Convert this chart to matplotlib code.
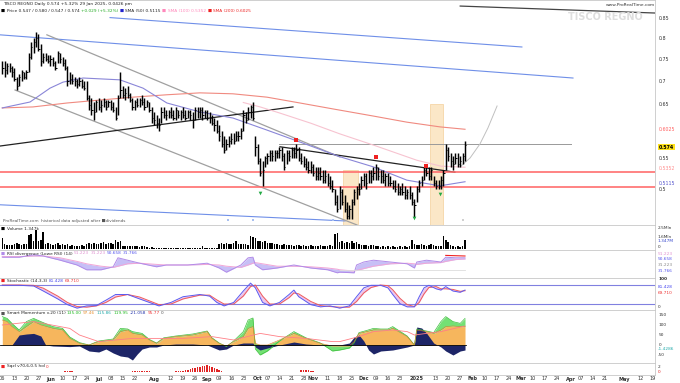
import numpy as np
import pandas as pd
import matplotlib
matplotlib.use("Agg")
import matplotlib.pyplot as plt
from matplotlib.transforms import blended_transform_factory

# ---------------- data ----------------
last_date = "2025-01-29"

highs = [.745,.745,.74,.74,.735,.73,.71,.715,.725,.72,
         .725,.765,.79,.80,.815,.81,.785,.765,.765,.76,
         .76,.755,.745,.77,.765,.755,.75,.735,.72,.715,
         .71,.705,.71,.705,.70,.70,.67,.665,.655,.66,
         .665,.66,.665,.66,.66,.66,.655,.645,.67,.72,
         .69,.685,.69,.675,.665,.66,.665,.665,.67,.665,
         .66,.655,.645,.635,.63,.625,.645,.645,.64,.64,
         .645,.64,.645,.64,.64,.645,.64,.64,.64,.635,
         .645,.645,.645,.645,.64,.64,.635,.63,.625,.62,
         .61,.60,.59,.585,.59,.595,.595,.60,.60,.605,
         .64,.635,.645,.65,.655,.59,.575,.55,.545,.555,
         .56,.565,.565,.565,.565,.57,.57,.56,.565,.565,
         .57,.57,.575,.57,.56,.555,.55,.545,.545,.54,
         .535,.535,.535,.53,.53,.525,.52,.515,.50,.49,
         .505,.50,.49,.48,.475,.485,.50,.505,.51,.52,
         .525,.525,.53,.53,.535,.54,.535,.53,.53,.525,
         .525,.52,.515,.515,.51,.505,.51,.505,.50,.505,
         .495,.485,.505,.515,.52,.535,.54,.535,.535,.52,
         .515,.515,.52,.53,.575,.57,.56,.555,.56,.56,
         .555,.56,.58]
lows = [.715,.71,.715,.72,.71,.70,.68,.69,.70,.705,
        .705,.72,.75,.765,.78,.77,.735,.74,.745,.74,
        .735,.735,.725,.74,.74,.735,.725,.69,.695,.695,
        .69,.685,.69,.685,.68,.66,.64,.63,.62,.635,
        .64,.635,.645,.64,.645,.64,.635,.62,.63,.665,
        .665,.66,.665,.655,.64,.64,.645,.645,.65,.64,
        .645,.635,.615,.61,.605,.60,.615,.625,.62,.625,
        .625,.62,.62,.625,.62,.625,.62,.625,.62,.605,
        .62,.625,.625,.62,.625,.62,.615,.61,.60,.595,
        .58,.57,.56,.565,.57,.575,.575,.58,.58,.585,
        .60,.615,.62,.625,.62,.555,.54,.52,.505,.535,
        .54,.545,.545,.545,.55,.55,.545,.53,.54,.545,
        .55,.55,.55,.545,.54,.535,.53,.525,.525,.52,
        .515,.515,.515,.51,.51,.505,.50,.495,.475,.465,
        .47,.475,.465,.455,.455,.455,.475,.485,.49,.50,
        .505,.50,.51,.51,.515,.515,.515,.51,.51,.505,
        .505,.505,.50,.495,.49,.49,.49,.485,.485,.485,
        .475,.458,.48,.495,.505,.515,.52,.515,.515,.505,
        .50,.50,.50,.505,.53,.545,.535,.53,.54,.535,
        .535,.54,.545]
closes = [.73,.725,.735,.73,.72,.705,.69,.71,.72,.71,
          .72,.755,.78,.79,.80,.775,.745,.755,.75,.745,
          .75,.74,.73,.765,.75,.74,.73,.70,.705,.70,
          .70,.695,.70,.69,.685,.665,.65,.64,.635,.655,
          .645,.65,.655,.645,.655,.645,.64,.625,.665,.68,
          .67,.675,.67,.66,.645,.655,.65,.66,.655,.645,
          .655,.64,.625,.62,.615,.61,.635,.63,.63,.635,
          .63,.625,.64,.63,.635,.63,.625,.635,.63,.62,
          .64,.635,.64,.63,.635,.625,.625,.615,.61,.60,
          .59,.575,.565,.575,.58,.585,.58,.59,.59,.60,
          .63,.62,.635,.645,.625,.57,.545,.525,.53,.55,
          .555,.56,.555,.56,.56,.565,.555,.535,.56,.555,
          .565,.56,.565,.55,.545,.54,.535,.53,.535,.525,
          .52,.525,.52,.515,.52,.51,.505,.50,.48,.47,
          .495,.48,.47,.46,.47,.48,.495,.50,.50,.515,
          .52,.51,.525,.52,.525,.535,.52,.52,.515,.52,
          .51,.51,.505,.50,.495,.50,.495,.49,.495,.49,
          .48,.475,.50,.51,.515,.53,.525,.52,.53,.51,
          .505,.505,.515,.525,.565,.555,.545,.54,.55,.54,
          .545,.555,.574]
volumes = [1.2,.5,.4,.45,.4,.5,.6,.5,.45,.5,
           .5,1.5,1.6,.8,2.0,.8,.9,1.8,.5,.6,
           .5,.4,.5,.6,.4,.5,.4,.5,.35,.4,
           .3,.35,.3,.4,.35,.5,.6,.55,.6,.5,
           .55,.6,.7,.5,.6,.65,.55,.9,.7,.8,
           .35,.3,.35,.3,.3,.35,.3,.25,.3,.3,
           .2,.15,.2,.15,.1,.15,.15,.1,.15,.1,
           .15,.1,.15,.1,.15,.1,.1,.15,.1,.15,
           .1,.15,.1,.3,.15,.1,.15,.1,.15,.15,
           .5,.6,.55,.6,.5,.55,.6,.8,.5,.5,
           .55,.5,.45,1.4,1.3,1.2,.8,.85,.75,.8,
           .6,.65,.6,.55,.5,.45,.4,.5,.45,.4,
           .4,.35,.45,.4,.35,.4,.35,.3,.4,.35,
           .35,.3,.4,.35,.3,.35,.4,.35,1.6,1.7,
           .7,.8,.6,.7,.65,.8,.6,.7,.5,.4,
           .45,.4,.35,.45,.4,.35,.3,.25,.3,.25,
           .3,.25,.3,.2,.25,.3,.25,.3,.25,.3,
           1.0,.5,.4,.45,.5,.4,.35,.4,.5,.4,
           .3,.35,.3,1.4,.9,.7,.4,.3,.25,.3,
           .25,.3,1.0]

sma50_idx = [0, 11.5, 19.8, 25.2, 33.5, 48.8, 58.4, 68.3, 82, 95.7, 109.8, 123.5, 140.1, 153.8, 167.9, 181.6, 192]
sma50_val = [0.644, 0.656, 0.685, 0.698, 0.707, 0.703, 0.685, 0.654, 0.636, 0.624, 0.601, 0.579, 0.553, 0.536, 0.514, 0.505, 0.5115]
sma200_idx = [0, 12.7, 26.9, 40.5, 54.2, 68.3, 82, 95.7, 109.8, 123.5, 137.2, 153.8, 167.9, 181.6, 192]
sma200_val = [0.644, 0.646, 0.654, 0.660, 0.666, 0.671, 0.675, 0.673, 0.666, 0.654, 0.642, 0.628, 0.616, 0.607, 0.6025]
sma100_idx = [100, 107, 115, 128, 140, 155, 172, 182, 192]
sma100_val = [0.655, 0.646, 0.634, 0.614, 0.594, 0.572, 0.547, 0.537, 0.5352]

support_levels = [0.527, 0.503]
resist_level = 0.575
proj_idx = [189.9, 194.1, 198.2, 201.5, 205.3]
proj_val = [0.5356, 0.5509, 0.5755, 0.6049, 0.6479]

red_sig_idx = [122, 155, 176]
red_sig_val = [0.583, 0.553, 0.537]
green_sig_idx = [107, 171, 181.6]
green_sig_val = [0.494, 0.457, 0.492]
blue_mk_idx = [93.7, 104, 137.2]
boxes = [(141.4, 147.6, 0.531), (177.5, 182.9, 0.652)]

rsi_idx = [0,7,13,17,24,31,35,41,46,48,52,57,64,68,77,85,90,93,99,102,104,105,108,114,121,128,135,139,140,146,147,150,154,161,168,171,172,176,182,184,188,192]
rsi_val = [53,53,57,55,48,40,32,32,37,52,48,43,37,40,40,43,35,28,40,52,53,40,32,35,40,35,32,27,28,27,40,45,48,45,42,35,45,48,45,53,52,52]
rsi_sig = [54,54,55,55,52,46,42,38,36,38,42,43,41,40,40,41,40,38,36,40,43,44,42,38,38,37,35,33,32,30,31,34,38,42,43,42,41,43,44,46,49,50]

st_idx = [0,3,7,13,17,23,27,31,35,39,43,47,52,57,61,65,70,75,82,86,89,92,96,100,103,105,108,111,115,119,121,123,128,132,136,140,144,147,150,153,157,160,162,165,168,171,173,175,177,180,182,184,187,190,192]
st_k = [79,79,79,77,61,36,18,7,14,15,32,50,50,36,25,14,25,43,50,45,25,14,25,61,86,71,25,14,25,50,64,43,18,11,14,7,14,43,71,79,79,71,50,21,11,11,43,71,79,68,64,75,61,57,64]
st_d = [80,80,80,79,70,45,25,12,10,14,25,42,50,42,30,18,20,36,48,48,33,20,20,45,75,80,45,20,20,40,55,52,28,15,12,10,10,28,55,72,80,78,65,38,18,12,25,52,72,75,68,68,66,60,62]

mom_idx = [0,2,4,7,10,13,16,21,25,28,32,36,40,46,49,52,54,58,61,64,67,72,79,85,87,90,93,96,100,102,104,105,107,110,115,121,126,132,137,140,144,146,148,151,154,157,160,162,168,171,172,176,179,182,184,187,190,192]
mom_orange = [125,117,92,67,92,117,100,83,75,33,8,0,17,25,67,75,58,50,25,8,33,42,50,67,33,8,-5,17,42,83,92,8,0,0,25,58,33,8,-5,-5,-5,17,58,67,75,75,75,83,42,0,75,67,58,75,92,95,92,92]
mom_green = [142,133,108,75,117,133,117,92,83,40,12,0,20,30,83,80,67,58,28,10,36,45,55,70,36,10,-8,20,67,125,135,-20,-50,-30,20,67,36,10,-30,-25,-15,10,62,72,83,80,80,92,45,0,80,70,62,117,142,117,108,133]
navy_idx = [0,4,7,10,13,16,18,21,28,32,36,40,43,46,49,52,54,56,58,61,64,67,72,79,85,90,93,96,100,104,105,107,110,115,121,126,132,137,140,144,146,148,150,152,154,157,162,168,171,172,174,176,179,182,184,187,190,192]
navy_val = [0,0,50,55,58,45,0,-5,-8,-5,-30,-35,-20,-40,-55,-60,-75,-45,-20,-10,-10,0,5,5,0,-25,-20,0,10,10,-10,-25,-15,0,15,5,0,0,0,10,40,50,20,-25,-45,-30,-25,-10,0,90,85,60,10,-10,-30,-50,-30,-25]
pink_idx = [0,13,28,32,40,54,64,75,87,96,107,115,126,137,140,148,154,162,168,171,176,182,192]
pink_val = [100,117,83,50,17,33,33,33,42,25,58,42,33,17,17,42,67,75,67,50,58,67,95]

sq_idx = [26,27,28,29,54,55,56,57,58,59,60,61,72,73,74,75,76,77,78,79,80,81,82,83,84,85,86,87,88,89,90,91,124,125,126,127,128,129]
sq_val = [0.4,0.5,0.4,0.3,0.4,0.5,0.5,0.6,0.5,0.5,0.4,0.4,0.3,0.4,0.4,0.6,0.8,0.9,1.2,1.5,1.8,2.0,2.2,2.5,2.6,2.8,2.6,2.2,1.8,1.2,0.8,0.4,0.8,1.0,0.9,0.7,0.5,0.4]

# ---------------- layout ----------------
W, H = 680, 383
PX, X0, XR = 2.41, 2.3, 655
XLIM = (-X0 / PX, (XR - X0) / PX)
FS = 3.4

fig = plt.figure(figsize=(W / 100, H / 100), dpi=100)
fig.patch.set_facecolor("white")
renderer = fig.canvas.get_renderer()


def panel(y0, y1):
    ax = fig.add_axes([0, 1 - y1 / H, XR / W, (y1 - y0) / H])
    ax.set_xlim(*XLIM)
    ax.set_xticks([])
    ax.set_yticks([])
    for s in ax.spines.values():
        s.set_color("#c8c8c8")
        s.set_linewidth(0.6)
    ax.spines["left"].set_visible(False)
    return ax


def ftext(x, y, s, **kw):
    kw.setdefault("fontsize", FS)
    kw.setdefault("va", "center")
    return fig.text(x / W, 1 - y / H, s, **kw)


def chain(x, y, parts, fs=FS, gap=1.5):
    for s, c in parts:
        t = ftext(x, y, s, color=c, fontsize=fs)
        x = t.get_window_extent(renderer).x1 + gap


def rlabel(ax, v, s, color="#333333", fs=FS, **kw):
    tr = blended_transform_factory(ax.transAxes, ax.transData)
    ax.text(1.006, v, s, transform=tr, fontsize=fs, color=color, va="center", clip_on=False, **kw)


idx = np.arange(len(closes))

# ---------------- main price panel ----------------
ax = panel(0, 225)
ax.set_yscale("log")
ax.set_ylim(0.4469, 0.9019)
ax.set_yticks([], minor=True)
ax.set_yticks([])

for a, b, top in boxes:
    ax.fill_between([a, b], [0.44, 0.44], [top, top], color="#fbe3bd", alpha=0.85, lw=0.5, edgecolor="#f2c98f", zorder=1)

ax.plot([44.7, 215.6], [0.8537, 0.7789], color="#6f8fe8", lw=0.8, zorder=2)
ax.plot([-0.95, 236.8], [0.809, 0.707], color="#6f8fe8", lw=0.8, zorder=2)
ax.plot([-0.95, 142.2], [0.476, 0.4526], color="#6f8fe8", lw=0.8, zorder=2)
ax.plot([190, 270.8], [0.885, 0.866], color="#444444", lw=0.9, zorder=2)
ax.plot([18.5, 140.1], [0.809, 0.5526], color="#a0a0a0", lw=0.9, zorder=2)
ax.plot([5.3, 147.2], [0.681, 0.4469], color="#a0a0a0", lw=0.9, zorder=2)
ax.plot([-0.95, 120.6], [0.5718, 0.646], color="#222222", lw=0.9, zorder=2)
ax.plot([115.2, 187.8], [0.5705, 0.527], color="#222222", lw=0.9, zorder=2)
ax.plot([115, 236], [resist_level, resist_level], color="#999999", lw=0.7, zorder=2)
for lv in support_levels:
    ax.axhline(lv, color="#ff6b6b", lw=1.3, alpha=0.9, zorder=2)

ax.plot(sma200_idx, sma200_val, color="#f08a80", lw=0.8, zorder=3)
ax.plot(sma100_idx, sma100_val, color="#f7c3d0", lw=0.8, zorder=3)
ax.plot(sma50_idx, sma50_val, color="#8a86d8", lw=0.8, zorder=3)
ax.plot(proj_idx, proj_val, color="#c0c0c0", lw=0.7, zorder=3)

ax.vlines(idx, lows, highs, color="black", lw=1.05, zorder=4)
ax.hlines(closes, idx, idx + 0.5, color="black", lw=0.7, zorder=4)

ax.scatter(red_sig_idx, red_sig_val, marker="s", s=5, color="#ee2222", zorder=5, lw=0)
ax.scatter(green_sig_idx, green_sig_val, marker="v", s=7, color="#22aa44", zorder=5, lw=0)
ax.scatter(blue_mk_idx, [0.4535] * len(blue_mk_idx), marker="s", s=4, color="#a8c0f0", zorder=5, lw=0)
ax.scatter([191.2], [0.4535], marker="s", s=4, color="#d0d0d0", zorder=5, lw=0)

for v, s in [(0.85, "0.85"), (0.8, "0.8"), (0.75, "0.75"), (0.7, "0.7"), (0.65, "0.65"), (0.55, "0.55"), (0.499, "0.5")]:
    rlabel(ax, v, s)
rlabel(ax, 0.6025, "0.6025", color="#ff6060")
rlabel(ax, 0.570, "0.574", color="black", fontweight="bold",
       bbox=dict(boxstyle="square,pad=0.15", fc="#ffe21a", ec="none"))
rlabel(ax, 0.5335, "0.5352", color="#ff9090")
rlabel(ax, 0.509, "0.5115", color="#5555cc")

# ---------------- volume ----------------
axv = panel(225, 250)
axv.set_ylim(-0.105, 2.526)
axv.bar(idx, volumes, width=0.65, color="black")
ftext(658, 228, "2.5Mln", color="#333333", fontsize=3.1)
ftext(658, 236.5, "1.6Mln", color="#333333", fontsize=3.1)
ftext(658, 241.5, "1.347M", color="#3344cc", fontsize=3.1)
ftext(658, 246.5, "0", color="#333333", fontsize=3.1)

# ---------------- RSI ----------------
axr = panel(250, 278)
axr.set_ylim(18.33, 65)
axr.fill_between(rsi_idx, rsi_val, rsi_sig, color="#9a8cf0", alpha=0.55, lw=0)
axr.plot(rsi_idx, rsi_sig, color="#f2a6d6", lw=0.7)
axr.plot(rsi_idx, rsi_val, color="#b18be8", lw=0.7)
axr.plot([140, 192], [31.7, 31.7], color="#dddddd", lw=0.6)
axr.plot([184, 192], [56, 55], color="#ee2222", lw=0.8)
ftext(658, 254, "51.223", color="#e090d0", fontsize=3.1)
ftext(658, 259.5, "50.658", color="#5555ee", fontsize=3.1)
ftext(658, 265, "31.223", color="#888888", fontsize=3.1)
ftext(658, 270.5, "31.766", color="#5555ee", fontsize=3.1)

# ---------------- Stochastic ----------------
axs = panel(278, 310)
axs.set_ylim(1.05, 102.1)
axs.axhline(80, color="#8080e0", lw=0.8)
axs.axhline(20, color="#8080e0", lw=0.8)
axs.fill_between(st_idx, st_k, st_d, color="#e7b9e8", alpha=0.8, lw=0)
axs.plot(st_idx, st_d, color="#f05a5a", lw=0.7)
axs.plot(st_idx, st_k, color="#5a5af0", lw=0.7)
ftext(658, 279.5, "100", color="#333333", fontweight="bold", fontsize=3.1)
ftext(658, 287, "81.428", color="#4444ee", fontsize=3.1)
ftext(658, 293, "69.710", color="#ee3333", fontsize=3.1)
ftext(658, 307, "0", color="#333333", fontsize=3.1)

# ---------------- Smart momentum ----------------
axm = panel(310, 363)
axm.set_ylim(-90, 175)
axm.fill_between(mom_idx, 0, mom_orange, color="#f6b65d", lw=0)
axm.fill_between(mom_idx, mom_orange, mom_green, color="#74e074", lw=0)
axm.plot(mom_idx, mom_green, color="#3fbf3f", lw=0.5)
axm.fill_between(navy_idx, 0, navy_val, color="#1d2567", lw=0)
axm.plot(mom_idx, mom_orange, color="#d97e2a", lw=0.4)
axm.plot(pink_idx, pink_val, color="#ff7f86", lw=0.6)
axm.axhline(0, xmax=(192.5 - XLIM[0]) / (XLIM[1] - XLIM[0]), color="black", lw=0.6)
for v, s in [(150, "150"), (100, "100"), (50, "50"), (0, "0")]:
    rlabel(axm, v, s, fs=3.1)
ftext(658, 349.5, "-1.4286", color="#22aaaa", fontsize=3.1)
ftext(658, 355, "-50", color="#333333", fontsize=3.1)

# ---------------- Squeeze ----------------
axq = panel(363, 375)
axq.set_ylim(-1.2, 3.6)
axq.bar(sq_idx, sq_val, width=0.6, color="#e02424")
ftext(658, 366.5, "2", color="#333333", fontsize=3.1)
ftext(658, 372, "0", color="#e02424", fontsize=3.1)

# ---------------- date axis ----------------
dates = pd.bdate_range(end=last_date, periods=len(closes))
full = pd.bdate_range(start=dates[0], periods=int(XLIM[1]) + 1)
month_pos = [k for k in range(1, len(full)) if full[k].month != full[k - 1].month]
pos, labs, bold = [], [], []
for k, d in enumerate(full):
    if k in month_pos:
        pos.append(k); labs.append("2025" if d.month == 1 else d.strftime("%b")); bold.append(True)
    elif d.weekday() == 0 and not any(-3 <= k - m <= 3 for m in month_pos):
        pos.append(k); labs.append(d.strftime("%d")); bold.append(False)
tr = blended_transform_factory(axq.transData, fig.transFigure)
for p, l, b in zip(pos, labs, bold):
    fig.text(p, 1 - 379 / H, l, transform=tr, fontsize=3.6, ha="center", va="center",
             color="#333333", fontweight="bold" if b else "normal")

# ---------------- header / titles ----------------
ftext(3, 4, "TISCO REGNO Daily 0.574 +5.32% 29 Jan 2025, 0.0426 pm", color="#222222", fontsize=3.2)
ftext(606, 5, "www.ProRealTime.com", color="#333333", fontsize=3.2)
ftext(568, 17, "TISCO REGNO", fontsize=7, color="#dedede", fontweight="bold")
chain(1, 11, [("\u25a0", "black"), ("Price 0.547 / 0.580 / 0.547 / 0.574", "#222222"),
              ("+0.029 (+5.32%)", "#22aa22"), ("\u25a0", "#2222cc"), ("SMA (50) 0.5115", "#222222"),
              ("\u25a0", "#ff88bb"), ("SMA (100) 0.5352", "#ff88bb"),
              ("\u25a0", "#ee2222"), ("SMA (200) 0.6025", "#ee2222")], fs=3.1)
ftext(3, 221, "ProRealTime.com  historical data adjusted after \u25a0dividends", color="#555555", fontsize=3.0)
chain(1, 228.5, [("\u25a0", "black"), ("Volume 1.347k", "#222222")], fs=3.1)
chain(1, 253.5, [("\u25a0", "#b18be8"), ("RSI divergence (Lowe RSI) (14)", "#222222"),
                 ("51.223", "#e090d0"), ("31.223", "#e090d0"), ("50.658", "#5555ee"), ("31.766", "#5555ee")], fs=3.1)
chain(1, 281, [("\u25a0", "#ee2222"), ("Stochastic (14,3,3)", "#222222"),
               ("81.428", "#4444ee"), ("69.710", "#ee3333")], fs=3.1)
chain(1, 313.5, [("\u25a0", "#555555"), ("Smart Momentum v.20 (11)", "#222222"), ("135.00", "#22bb22"),
                 ("97.46", "#e89030"), ("115.86", "#22aaaa"), ("119.95", "#22bb22"),
                 ("-21.058", "#2233aa"), ("95.77", "#ee3333"), ("0", "#555555")], fs=3.1)
chain(1, 366.5, [("\u25a0", "#ee2222"), ("Sqzl v70,6,0.5 hol", "#222222"), ("0", "#ee3333")], fs=3.1)

fig.savefig("out.png", dpi=100)
